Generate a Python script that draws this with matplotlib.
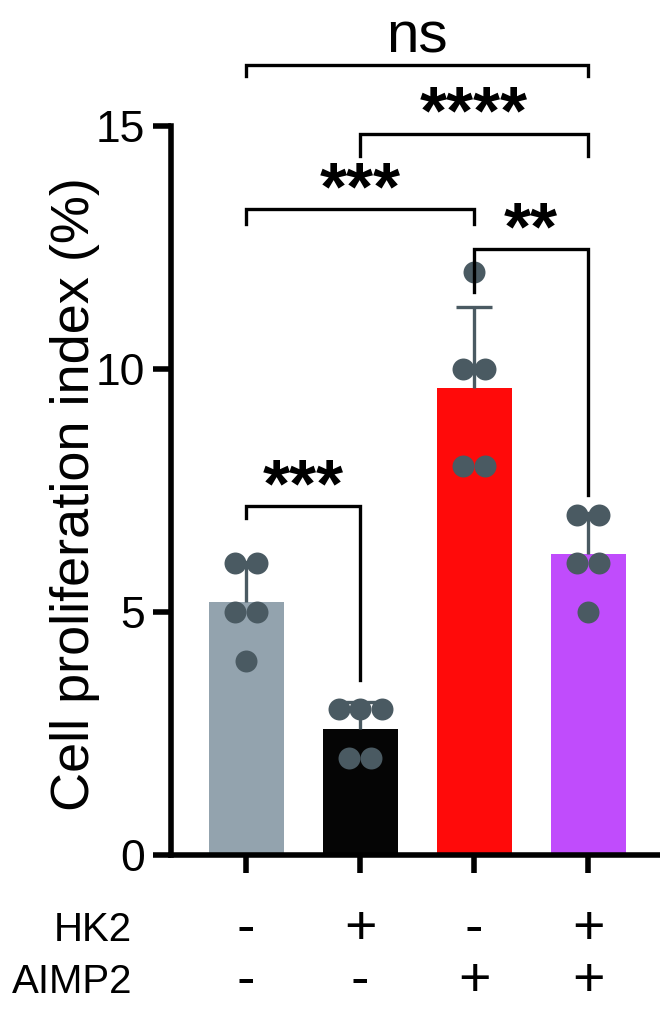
import matplotlib.pyplot as plt
from matplotlib import font_manager
import numpy as np

# narrow font if there is one, else regular with smaller sizes
names = set(f.name for f in font_manager.fontManager.ttflist)
if "Liberation Sans Narrow" in names:
	main_font = ["Liberation Sans Narrow", "Liberation Sans"]
	label_size, tick_size, row_size = 46, 38, 35
else:
	main_font = ["Liberation Sans", "DejaVu Sans"]
	label_size, tick_size, row_size = 39, 32, 29
plt.rcParams.update({
	"font.family": main_font,
})
sign_size = 40
star_size = 50
ns_size = 42

# data
groups = ["ctrl", "HK2", "AIMP2", "HK2+AIMP2"]
values = [
	[4, 5, 5, 6, 6],
	[2, 2, 3, 3, 3],
	[8, 8, 10, 10, 12],
	[5, 6, 6, 7, 7],
]
hk2_signs = ["-", "+", "-", "+"]
aimp2_signs = ["-", "-", "+", "+"]
bar_colors = ["#93a3ae", "#050505", "#ff0a0a", "#c04cfc"]
dot_color = "#4a5a62"

# brackets: (left group, right group, bar height, left leg end, right leg end, label)
brackets = [
	(0, 1, 7.18, 6.93, 3.6, "***"),
	(0, 2, 13.29, 12.98, 12.98, "***"),
	(2, 3, 12.47, 11.58, 7.41, "**"),
	(1, 3, 14.84, 14.38, 14.38, "****"),
	(0, 3, 16.26, 16.03, 16.03, "ns"),
]

fig = plt.figure(figsize=(6.6, 10.09), dpi=100)
ax = fig.add_axes([0.259, 0.1526, 0.741, 0.7225])

x = np.arange(len(groups))
means = [np.mean(v) for v in values]
sds = [np.std(v, ddof=1) for v in values]

ax.bar(x, means, width=0.66, color=bar_colors, zorder=2)
# upper error bar only, with cap
ax.vlines(x, means, np.add(means, sds), color=dot_color, lw=2.4, zorder=3)
ax.hlines(np.add(means, sds), x - 0.16, x + 0.16, color=dot_color, lw=2.4, zorder=3)

# dots, side by side when values repeat
step = 0.19
for i, v in enumerate(values):
	uniq, counts = np.unique(v, return_counts=True)
	for u, c in zip(uniq, counts):
		offs = (np.arange(c) - (c - 1) / 2) * step
		ax.scatter(i + offs, [u] * c, s=250, color=dot_color, zorder=4, linewidths=0)

# brackets
for a, b, h, la, lb, lab in brackets:
	ax.plot([a, a, b, b], [la, h, h, lb], color="black", lw=2.4, clip_on=False, zorder=5,
		solid_joinstyle="miter")
	if lab == "ns":
		ax.text((a + b) / 2, h + 0.26, lab, ha="center", va="baseline", fontsize=ns_size,
			family=["Liberation Sans", "DejaVu Sans"])
	else:
		ax.text((a + b) / 2, h + 0.0, lab, ha="center", va="baseline", fontsize=star_size,
			fontweight="bold", family=["Liberation Sans", "DejaVu Sans"])

ax.set_xlim(-0.66, 3.63)
ax.set_ylim(0, 15)
ax.set_yticks([0, 5, 10, 15])
ax.set_xticks(x)
ax.set_xticklabels([])
ax.set_ylabel("Cell proliferation index (%)", fontsize=label_size)
ax.yaxis.set_label_coords(-0.145, 0.495)
ax.tick_params(which="major", length=13, width=4, labelsize=tick_size, pad=6)
ax.spines["right"].set_visible(False)
ax.spines["top"].set_visible(False)
ax.spines["left"].set_linewidth(4)
ax.spines["bottom"].set_linewidth(4)

# +/- rows under the axis
trans = ax.get_xaxis_transform()
for row_y, name, signs in [(-0.103, "HK2", hk2_signs), (-0.174, "AIMP2", aimp2_signs)]:
	ax.text(-1.0, row_y, name, transform=trans, ha="right", va="center", fontsize=row_size)
	for i, s in enumerate(signs):
		ax.text(i, row_y, s, transform=trans, ha="center", va="center", fontsize=sign_size)

plt.savefig("out.png", dpi=100)
